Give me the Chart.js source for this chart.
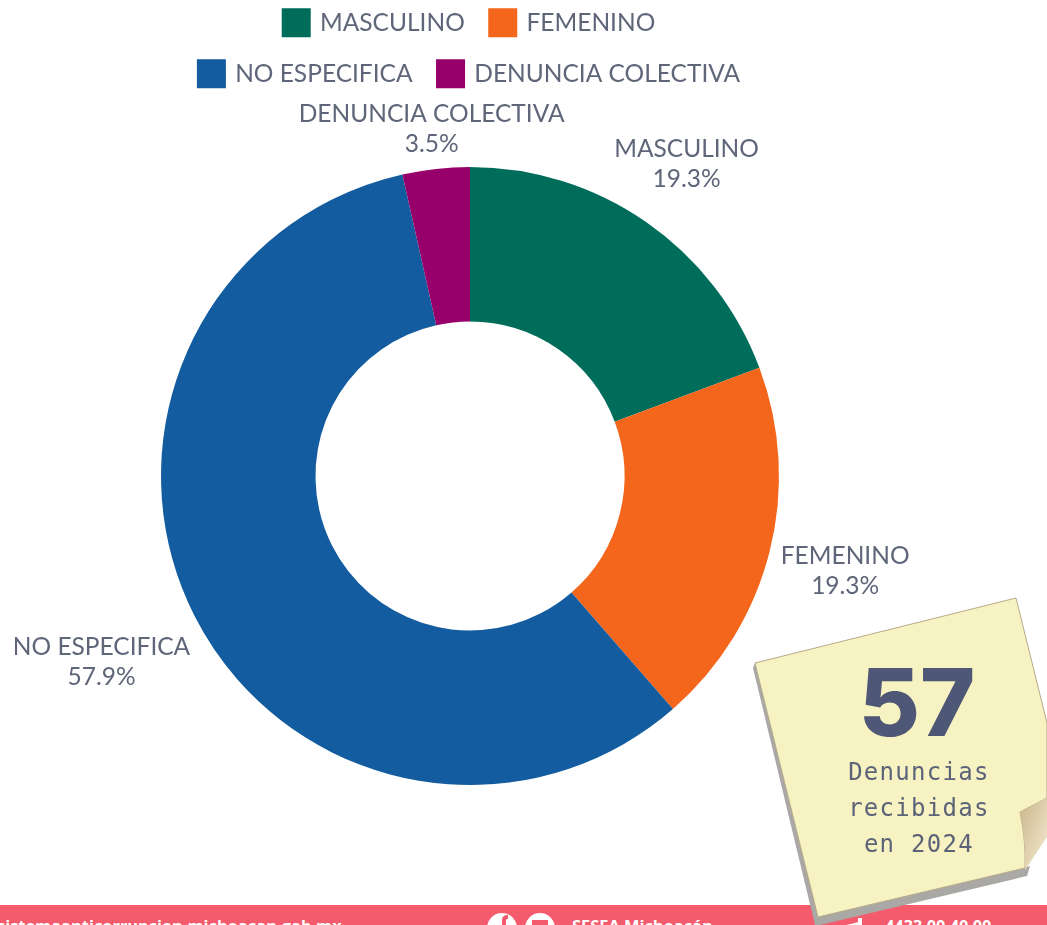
<!DOCTYPE html>
<html lang="es">
<head>
<meta charset="utf-8">
<title>Denuncias recibidas en 2024</title>
<script src="https://cdn.jsdelivr.net/npm/chart.js@4"></script>
<style>
    html, body { margin: 0; padding: 0; background: #fff; }
    #page { position: relative; width: 1047px; height: 925px; overflow: hidden; }
    #myChart { position: absolute; left: 0; top: -16px; }
    #footer { position: absolute; left: 0; top: 905px; width: 1047px; height: 20px; background: #f45b6c; overflow: hidden; }
    #footer span { position: absolute; top: 9px; color: #fff; font: bold 16.4px "Open Sans", sans-serif; white-space: nowrap; }
    #note { position: absolute; left: 0; top: 0; }
    .noteText { position: absolute; width: 200px; text-align: center; left: 819px; color: #5c6378; font-family: "DejaVu Sans Mono", monospace; font-size: 24px; letter-spacing: 1.3px; }
    #big { position: absolute; left: 817px; width: 200px; top: 645px; text-align: center; color: #4e5775; font: 800 94px "Inter", sans-serif; }
</style>
</head>
<body>
<div id="page">
    <canvas id="myChart" width="1047" height="941"></canvas>
    <div id="footer">
        <span style="left:-3px">sistemaanticorrupcion.michoacan.gob.mx</span>
        <span style="left:572px">SESEA Michoacán</span>
        <span style="left:885px">4433 00 40 00</span>
    </div>
    <svg id="note" width="1047" height="925">
        <defs>
            <linearGradient id="curl" x1="0" y1="0" x2="1" y2="1">
                <stop offset="0" stop-color="#c9b58a"/>
                <stop offset="1" stop-color="#f5ecd2"/>
            </linearGradient>
        </defs>
        <!-- iconos del pie -->
        <circle cx="502" cy="928" r="15" fill="#fff"/>
        <circle cx="540" cy="928" r="15" fill="#fff"/>
        <path d="M504 925 v-5 q0 -3 4 -3" fill="none" stroke="#f45b6c" stroke-width="4"/>
        <rect x="532" y="920" width="16" height="5" fill="#f45b6c"/>
        <path d="M858 918 v7 h4 v-7 z M846 925 q6 -1 12 -3 v3 z" fill="#fff"/>
        <!-- nota -->
        <polygon points="753,668 755,663 820,914 1030,866 1027,876 820,925 815,925" fill="#a9a8a4"/>
        <path d="M755,663 L1016,598 L1047,723 L1047,798 L1020,812 Q1026,840 1025,868 L818,917 Z" fill="#f6f2c2" stroke="#b8aa8c" stroke-width="1"/>
        <path d="M1020,812 L1047,798 L1047,837 L1025,870 Q1026,840 1020,812 Z" fill="url(#curl)"/>
    </svg>
    <div id="big">57</div>
    <div class="noteText" style="top:758px">Denuncias</div>
    <div class="noteText" style="top:794px">recibidas</div>
    <div class="noteText" style="top:830px">en 2024</div>
</div>
<script>
// Datos de la gráfica
const categories = ["MASCULINO", "FEMENINO", "NO ESPECIFICA", "DENUNCIA COLECTIVA"];
const denuncias = [11, 11, 33, 2];
const porcentajes = ["19.3%", "19.3%", "57.9%", "3.5%"];
const colores = ["#006d5b", "#f4661b", "#135c9f", "#97006a"];

// Distancia de cada etiqueta desde el borde del anillo
const labelGap = [71, 78, 104, 40];

const sliceLabels = {
    id: 'sliceLabels',
    afterDatasetsDraw(chart) {
        const ctx = chart.ctx;
        const arcs = chart.getDatasetMeta(0).data;
        ctx.save();
        ctx.font = '24.5px Lato';
        ctx.fillStyle = '#5f6679';
        ctx.textAlign = 'center';
        ctx.textBaseline = 'middle';
        arcs.forEach((arc, i) => {
            const mid = (arc.startAngle + arc.endAngle) / 2;
            const r = arc.outerRadius + labelGap[i];
            const x = arc.x + Math.cos(mid) * r;
            const y = arc.y + Math.sin(mid) * r;
            ctx.fillText(categories[i], x, y - 15);
            ctx.fillText(porcentajes[i], x, y + 15);
        });
        ctx.restore();
    }
};

const myChart = new Chart(document.getElementById("myChart"), {
    type: 'doughnut',
    data: {
        labels: categories,
        datasets: [{
            data: denuncias,
            backgroundColor: colores,
            borderWidth: 0
        }]
    },
    options: {
        responsive: false,
        animation: false,
        cutout: '50%',
        layout: { padding: { left: 161, right: 268, top: 0, bottom: 69 } },
        plugins: {
            tooltip: { enabled: false },
            legend: {
                position: 'top',
                maxWidth: 580,
                labels: {
                    boxWidth: 23,
                    boxHeight: 23,
                    padding: 26.5,
                    color: '#5f6679',
                    font: { family: 'Lato', size: 24.5 },
                    // borde del mismo color para acercar el texto al cuadro
                    generateLabels(chart) {
                        return Chart.overrides.doughnut.plugins.legend.labels.generateLabels(chart).map(item => {
                            item.lineWidth = 6;
                            item.strokeStyle = item.fillStyle;
                            return item;
                        });
                    }
                }
            }
        }
    },
    plugins: [sliceLabels]
});
</script>
</body>
</html>
